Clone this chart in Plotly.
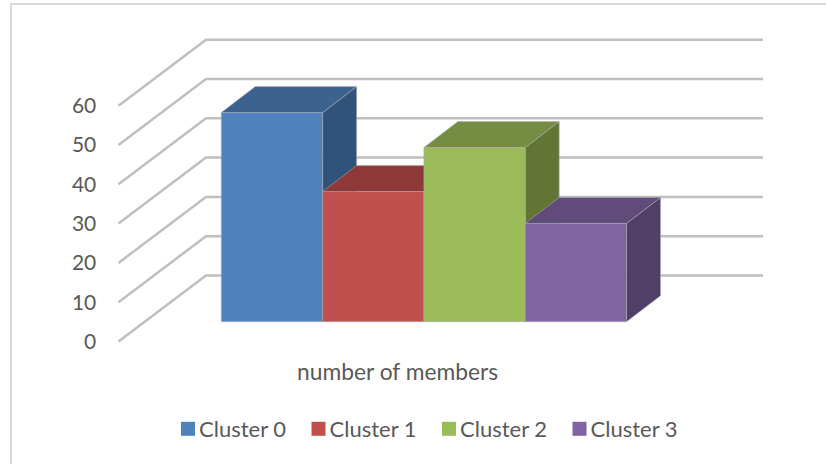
import plotly.graph_objects as go

series = ["Cluster 0", "Cluster 1", "Cluster 2", "Cluster 3"]
values = [53.2, 33.1, 44.3, 25.0]
tick_values = [0, 10, 20, 30, 40, 50, 60]
axis_title = "number of members"

front_colors = ["#4F81BD", "#C0504D", "#9BBB59", "#8064A2"]
top_colors = ["#3C6290", "#8E3937", "#748D42", "#604B7B"]
side_colors = ["#31527A", "#7A2F2D", "#637535", "#503F66"]
GRID = "#BFBFBF"
TEXT = "#595959"
FONT = "Lato"

W, H = 826, 464
PX_CAT = 101.3      # pixels per category
PX_VAL = 3.93       # pixels per value unit
BAR_LEFT = 221.3    # pixel position of category 0
ZERO_Y = 341.5      # pixel position of value 0 on the front plane

# oblique projection, expressed in data units
WALL_DX = 87.5 / PX_CAT
WALL_DY = 66.0 / PX_VAL
BASE_DY = 19.8 / PX_VAL
BAR_DX = 34.0 / PX_CAT
BAR_DY = 26.0 / PX_VAL
GRID_LEFT = (118.5 - BAR_LEFT) / PX_CAT
GRID_RIGHT = (763.0 - BAR_LEFT) / PX_CAT

fig = go.Figure()

for v in tick_values:
    fig.add_trace(go.Scatter(
        x=[GRID_LEFT, GRID_LEFT + WALL_DX, GRID_RIGHT],
        y=[v, v + WALL_DY, v + WALL_DY],
        mode="lines", line=dict(color=GRID, width=2.5),
        showlegend=False, hoverinfo="skip"))


def face(xs, ys, color):
    fig.add_trace(go.Scatter(
        x=xs, y=ys, mode="lines", fill="toself", fillcolor=color,
        line=dict(color="rgba(170,170,175,0.55)", width=1),
        showlegend=False, hoverinfo="skip"))


# painter's order: left to right, each bar's side, top, then front
for i in range(len(values)):
    top = values[i] + BASE_DY
    base = BASE_DY
    face([i + 1, i + 1 + BAR_DX, i + 1 + BAR_DX, i + 1, i + 1],
         [top, top + BAR_DY, base + BAR_DY, base, top], side_colors[i])
    face([i, i + 1, i + 1 + BAR_DX, i + BAR_DX, i],
         [top, top, top + BAR_DY, top + BAR_DY, top], top_colors[i])
    face([i, i + 1, i + 1, i, i], [base, base, top, top, base], front_colors[i])

# legend entries
for name, color in zip(series, front_colors):
    fig.add_trace(go.Scatter(
        x=[None], y=[None], mode="markers", name=name,
        marker=dict(symbol="square", size=14, color=color)))

fig.add_annotation(
    text=axis_title, xref="paper", yref="paper",
    x=397.5 / W, y=1 - 371 / H, yanchor="middle", showarrow=False,
    font=dict(family=FONT, size=22.8, color=TEXT))

# chart frame (open on the right and bottom, where the picture is cropped)
fig.add_shape(type="rect", xref="paper", yref="paper",
              x0=11 / W, x1=1.05, y0=-0.1, y1=1 - 4 / H,
              line=dict(color="#D9D9D9", width=2), layer="below")

fig.update_layout(
    width=W, height=H, margin=dict(l=0, r=0, t=0, b=0),
    paper_bgcolor="white", plot_bgcolor="white",
    font=dict(family=FONT, size=21, color=TEXT),
    xaxis=dict(range=[-BAR_LEFT / PX_CAT, (W - BAR_LEFT) / PX_CAT],
               visible=False, fixedrange=True),
    yaxis=dict(range=[(ZERO_Y - H) / PX_VAL, ZERO_Y / PX_VAL],
               anchor="free", position=118.5 / W,
               tickmode="array", tickvals=tick_values,
               showgrid=False, zeroline=False, showline=False,
               ticks="outside", ticklen=18, tickcolor="rgba(0,0,0,0)",
               tickfont=dict(family=FONT, size=21, color=TEXT),
               fixedrange=True),
    showlegend=True,
    legend=dict(orientation="h", x=159 / W, xanchor="left",
                y=1 - 429 / H, yanchor="middle",
                entrywidth=85.5, entrywidthmode="pixels",
                itemwidth=30, traceorder="normal",
                bgcolor="rgba(0,0,0,0)",
                font=dict(family=FONT, size=22, color=TEXT)),
)

post = """
document.body.style.margin = '0';
document.body.style.overflow = 'hidden';
document.querySelectorAll('.legend .legendsymbols').forEach(function (s) {
  s.setAttribute('transform', 'translate(9,0)');
});
"""
fig.write_html("out.html", post_script=post, config={"displayModeBar": False})
